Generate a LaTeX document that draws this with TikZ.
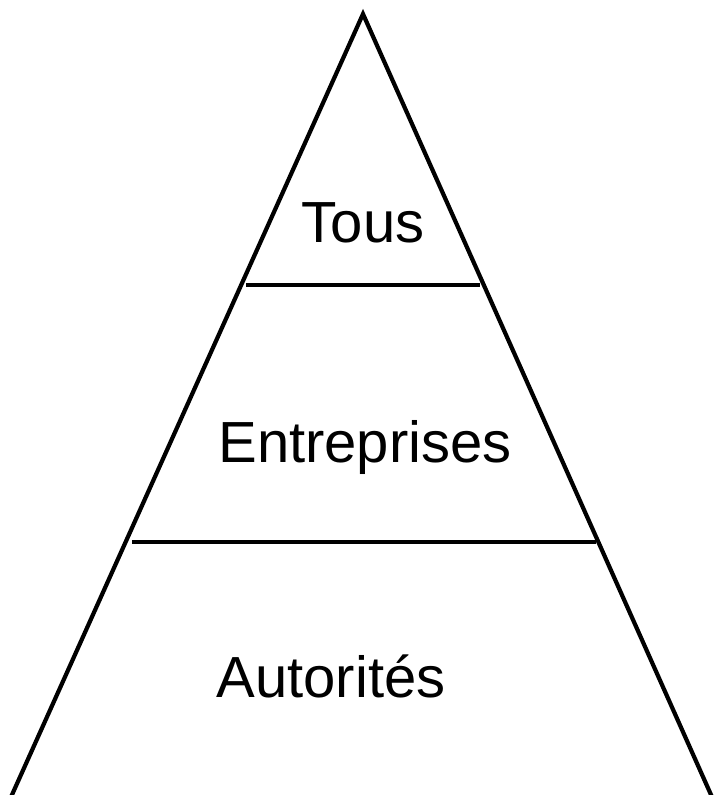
\documentclass[tikz,border=0pt]{standalone}
\usepackage{fontspec}
\setmainfont{Liberation Sans}
\begin{document}
\begin{tikzpicture}[x=1pt, y=-1pt, line width=4.2pt,
  level/.style={font=\fontsize{58}{60}\selectfont, anchor=base, inner sep=0pt}]
\useasboundingbox (0,0) rectangle (713,795);
\coordinate (top) at (363,14);
\coordinate (bl) at (11,797);
\coordinate (br) at (712,797);
\coordinate (l1) at (246,285);
\coordinate (r1) at (480,285);
\coordinate (l2) at (132,542);
\coordinate (r2) at (596,542);
\draw[line join=miter] (bl) -- (top) -- (br);
\draw[](l1) -- (r1);
\draw[](l2) -- (r2);
\node[level] (tous) at (363,242){Tous};
\node[level] (entreprises) at (365,462){Entreprises};
\node[level] (autorites) at (331,697){Autorités};
\end{tikzpicture}
\end{document}
